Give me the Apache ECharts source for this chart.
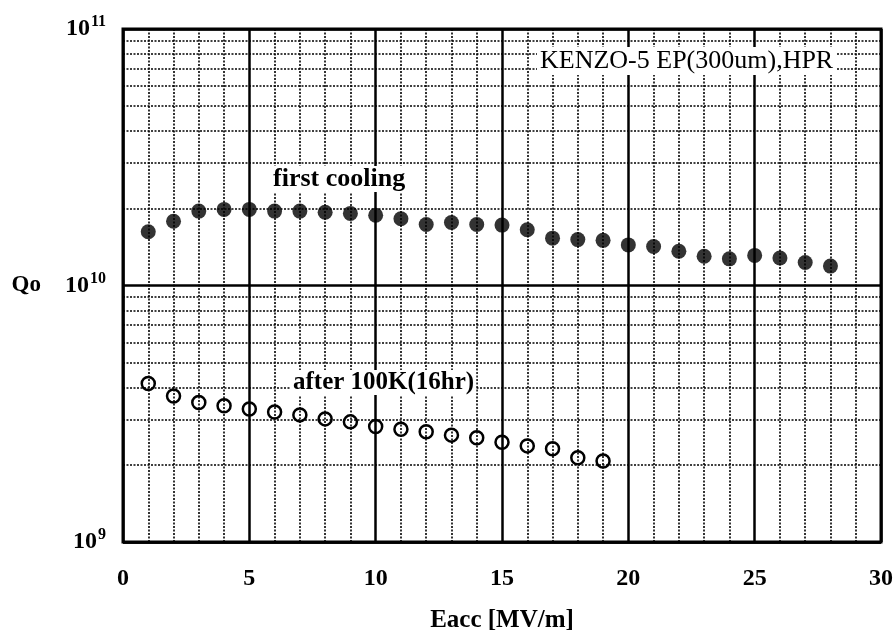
<!DOCTYPE html>
<html>
<head>
<meta charset="utf-8">
<script src="https://cdn.jsdelivr.net/npm/echarts@6/dist/echarts.min.js"></script>
<style>
  html, body { margin: 0; padding: 0; background: #fff; }
  #main { width: 896px; height: 632px; }
</style>
</head>
<body>
<div id="main"></div>
<script>
var myChart = echarts.init(document.getElementById('main'));

// Eacc [MV/m]
let eaccFirst = [1, 2, 3, 4, 5, 6, 7, 8, 9, 10, 11, 12, 13, 14,
                 15, 16, 17, 18, 19, 20, 21, 22, 23, 24, 25, 26, 27, 28];
let qoFirst = [1.62e10, 1.78e10, 1.95e10, 1.98e10, 1.98e10, 1.95e10, 1.95e10,
               1.93e10, 1.91e10, 1.88e10, 1.82e10, 1.73e10, 1.76e10, 1.73e10,
               1.72e10, 1.65e10, 1.53e10, 1.51e10, 1.50e10, 1.44e10, 1.42e10,
               1.36e10, 1.30e10, 1.27e10, 1.31e10, 1.28e10, 1.23e10, 1.19e10];

let eaccAfter = [1, 2, 3, 4, 5, 6, 7, 8, 9, 10, 11, 12, 13, 14, 15, 16, 17, 18, 19];
let qoAfter = [4.15e9, 3.71e9, 3.50e9, 3.40e9, 3.30e9, 3.21e9, 3.13e9, 3.02e9,
               2.94e9, 2.82e9, 2.75e9, 2.69e9, 2.61e9, 2.55e9, 2.45e9, 2.37e9,
               2.31e9, 2.13e9, 2.07e9];

// dotted horizontal grid at 2..9 x each decade
let minorGrid = [2e9, 3e9, 4e9, 5e9, 6e9, 7e9, 8e9, 9e9,
                 2e10, 3e10, 4e10, 5e10, 6e10, 7e10, 8e10, 9e10];

let serif = '"Liberation Serif", "DejaVu Serif", serif';

function pairs(xs, ys) {
    return xs.map(function (x, i) { return [x, ys[i]]; });
}

let option = {
    backgroundColor: '#fff',
    animation: false,
    grid: {
        left: 123,
        right: 15,
        top: 29,
        bottom: 90,
        outerBoundsMode: 'none',
        containLabel: false,
        show: true,
        borderColor: '#000',
        borderWidth: 3,
        backgroundColor: 'transparent'
    },
    xAxis: {
        type: 'value',
        min: 0,
        max: 30,
        interval: 5,
        name: 'Eacc [MV/m]',
        nameLocation: 'middle',
        nameGap: 66,
        nameTextStyle: {
            fontFamily: serif,
            fontWeight: 'bold',
            fontSize: 25,
            color: '#000'
        },
        axisLine: { show: false },
        axisTick: { show: false },
        axisLabel: {
            margin: 25,
            fontFamily: serif,
            fontWeight: 'bold',
            fontSize: 24,
            color: '#000'
        },
        splitLine: {
            show: true,
            lineStyle: { color: '#000', width: 2.5 }
        },
        minorTick: { show: false, splitNumber: 5 },
        minorSplitLine: {
            show: true,
            lineStyle: { color: '#000', width: 1.6, type: [2, 1.5] }
        }
    },
    yAxis: {
        type: 'log',
        logBase: 10,
        min: 1e9,
        max: 1e11,
        axisLine: { show: false },
        axisTick: { show: false },
        axisLabel: {
            margin: 17,
            formatter: function (v) {
                let e = Math.round(Math.log10(v));
                let s = '{b|10}{s|' + e + '}';
                if (e === 10) s = '{q|Qo}' + s;
                return s;
            },
            rich: {
                q: {
                    fontFamily: serif, fontWeight: 'bold', fontSize: 23,
                    color: '#000', padding: [0, 24, 0, 0]
                },
                b: {
                    fontFamily: serif, fontWeight: 'bold', fontSize: 24,
                    color: '#000'
                },
                s: {
                    fontFamily: serif, fontWeight: 'bold', fontSize: 16,
                    color: '#000', padding: [0, 0, 14, 1]
                }
            }
        },
        splitLine: {
            show: true,
            lineStyle: { color: '#000', width: 2.5 }
        }
    },
    graphic: [
        {
            type: 'text',
            left: 537,
            top: 47,
            z: 10,
            style: {
                text: 'KENZO-5 EP(300um),HPR',
                fontFamily: serif,
                fontSize: 26,
                fill: '#000',
                backgroundColor: '#fff',
                padding: [1, 3]
            }
        },
        {
            type: 'text',
            left: 271,
            top: 166,
            z: 10,
            style: {
                text: 'first cooling',
                fontFamily: serif,
                fontWeight: 'bold',
                fontSize: 26,
                fill: '#000',
                backgroundColor: '#fff',
                padding: [0, 2]
            }
        },
        {
            type: 'text',
            left: 291,
            top: 370,
            z: 10,
            style: {
                text: 'after 100K(16hr)',
                fontFamily: serif,
                fontWeight: 'bold',
                fontSize: 25,
                fill: '#000',
                backgroundColor: '#fff',
                padding: [0, 2]
            }
        }
    ],
    series: [
        {
            name: 'grid',
            type: 'line',
            data: [],
            markLine: {
                silent: true,
                symbol: ['none', 'none'],
                label: { show: false },
                lineStyle: { color: '#000', width: 1.6, type: [2, 1.5] },
                data: minorGrid.map(function (v) { return { yAxis: v }; })
            }
        },
        {
            name: 'first cooling',
            type: 'scatter',
            symbol: 'circle',
            symbolSize: 15,
            z: 5,
            itemStyle: { color: '#000' },
            data: pairs(eaccFirst, qoFirst)
        },
        {
            name: 'after 100K(16hr)',
            type: 'scatter',
            symbol: 'circle',
            symbolSize: 13,
            z: 5,
            itemStyle: {
                color: 'transparent',
                borderColor: '#000',
                borderWidth: 2.5,
                opacity: 1
            },
            data: pairs(eaccAfter, qoAfter)
        }
    ]
};

myChart.setOption(option);
</script>
</body>
</html>
